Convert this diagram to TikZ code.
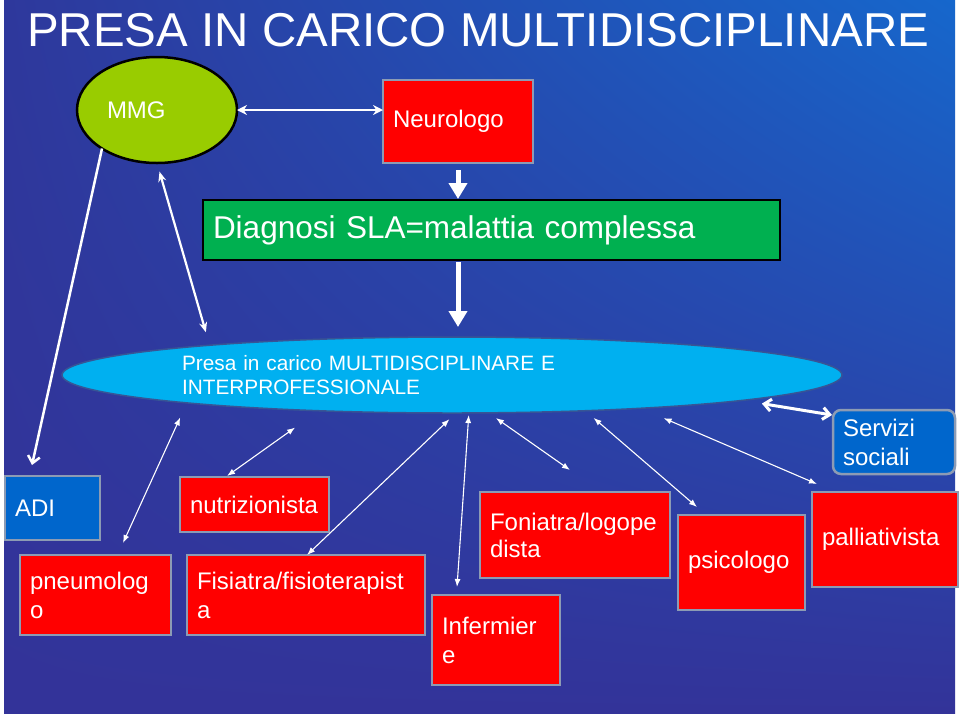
\documentclass[tikz,border=0pt]{standalone}
\usepackage{fontspec}
\setmainfont{Liberation Sans}
\usepackage{tikz}
\usetikzlibrary{shapes.geometric, arrows.meta, calc, shadings}
\definecolor{rosso}{RGB}{255,0,0}
\definecolor{verdino}{RGB}{153,204,0}
\definecolor{verde}{RGB}{0,176,80}
\definecolor{azzurro}{RGB}{0,176,240}
\definecolor{bluadi}{RGB}{0,102,204}
\definecolor{bordo}{RGB}{140,155,180}
\definecolor{bordoellisse}{RGB}{55,85,150}
\definecolor{fondoA}{RGB}{46,56,156}
\definecolor{fondoB}{RGB}{22,103,204}
\definecolor{fondoC}{RGB}{51,51,153}
\tikzset{
    casella/.style 2 args = {rectangle, fill=rosso, draw=bordo, line width=2.5pt, outer sep=0pt,
        inner xsep=10pt, inner ysep=0pt, anchor=north west, align=left, text=white,
        minimum width=#1pt, minimum height=#2pt, text width=#1pt-20pt,
        font=\fontsize{24}{29}\selectfont},
    freccina/.style = {white, line width=1.1pt, {Latex[length=8pt,width=6pt]}-{Latex[length=8pt,width=6pt]}},
    barba/.style = {white, line width=3pt, {Straight Barb[length=7pt,width=12pt]}-{Straight Barb[length=7pt,width=12pt]}},
    frecciablocco/.style = {white, line width=5pt, -{Triangle[length=16pt,width=18pt]}}
}

\begin{document}
\begin{tikzpicture}[x=1pt, y=-1pt]
    % Sfondo
    \useasboundingbox (0,0) rectangle (960,716);
    \fill[white] (0,0) rectangle (960,716);
    \shade[upper left=fondoA, upper right=fondoB, lower left=fondoC, lower right=fondoC] (4,0) rectangle (955,713);
    % Titolo
    \node[anchor=base west, inner sep=0pt, text=white, font=\fontsize{47.5}{56}\selectfont] (titolo) at (27,46) {PRESA IN CARICO MULTIDISCIPLINARE};
    % Nodi in alto
    \node[ellipse, fill=verdino, draw=black, line width=2.5pt, inner sep=0pt, outer sep=0pt,
        minimum width=160pt, minimum height=106pt, text width=100pt, align=left, text=white,
        font=\fontsize{24}{29}\selectfont] (mmg) at (157,110) {MMG};
    \node[casella={150}{83}] (neuro) at (383,80) {Neurologo};
    \node[casella={577}{60}, fill=verde, draw=black, font=\fontsize{31.5}{38}\selectfont] (diagnosi) at (203,200) {Diagnosi SLA=malattia complessa};
    \node[ellipse, fill=azzurro, draw=bordoellisse, line width=1.5pt, inner sep=0pt, outer sep=0pt,
        minimum width=780pt, minimum height=76pt, text width=540pt, align=left, text=white,
        font=\fontsize{20.8}{24.5}\selectfont] (presa) at (452,375) {Presa in carico MULTIDISCIPLINARE E\\INTERPROFESSIONALE};
    \node[casella={122}{64}, fill=bluadi, rounded corners=8pt] (servizi) at (833,410) {Servizi\\sociali};
    % Caselle in basso
    \node[casella={95}{64}, fill=bluadi] (adi) at (5,476) {ADI};
    \node[casella={151}{80}] (pneumo) at (20,555) {pneumolog\\o};
    \node[casella={149}{55}] (nutri) at (180,477) {nutrizionista};
    \node[casella={238}{80}] (fisiatra) at (187,555) {Fisiatra/fisioterapist\\a};
    \node[casella={128}{90}] (inferm) at (432,595) {Infermier\\e};
    \node[casella={190}{86}, font=\fontsize{24}{27}\selectfont] (foniatra) at (480,492) {Foniatra/logope\\dista};
    \node[casella={127}{95}] (psico) at (678,515) {psicologo};
    \node[casella={146}{95}] (palli) at (812,492) {palliativista};
    % Frecce grosse
    \draw[white, line width=2.5pt, {Stealth[length=10pt,width=10pt]}-{Stealth[length=10pt,width=10pt]}] (mmg.east) -- (mmg.east -| neuro.west);
    \draw[frecciablocco, shorten <=7pt, shorten >=1pt] (neuro.south) -- (neuro.south |- diagnosi.north);
    \draw[frecciablocco, shorten <=2pt, shorten >=10pt] (neuro.south |- diagnosi.south) -- (neuro.south |- presa.north);
    \draw[white, line width=2.2pt, {Stealth[length=10pt,width=8pt]}-{Stealth[length=10pt,width=8pt]}, shorten <=9pt, shorten >=13.5pt] (mmg.south) -- (presa.173.5);
    \draw[white, line width=2.5pt, -{Straight Barb[length=7pt,width=12pt]}] (mmg.215) -- ([xshift=-20.5pt,yshift=11pt]adi.north);
    \draw[barba, shorten <=20pt] (presa.355.8) -- ([xshift=-1pt,yshift=-5pt]servizi.north west);
    % Freccine verso le caselle
    \draw[freccina, shorten <=16pt] (presa.186.4) -- ([xshift=27.5pt,yshift=12pt]pneumo.north);
    \draw[freccina, shorten <=29pt] (presa.195.7) -- ([xshift=-27.5pt,yshift=1pt]nutri.north);
    \draw[freccina, shorten <=9pt] (presa.276.5) -- ([xshift=1pt]fisiatra.north);
    \draw[freccina, shorten <=2pt] (presa.294.2) -- ([xshift=-39pt,yshift=8pt]inferm.north);
    \draw[freccina, shorten <=9pt] (presa.314.9) -- ([xshift=-5pt,yshift=22pt]foniatra.north);
    \draw[freccina, shorten <=11pt] (presa.345) -- ([xshift=-44.5pt,yshift=8pt]psico.north);
    \draw[freccina, shorten <=25pt] (presa.350.9) -- ([xshift=-68pt,yshift=8pt]palli.north);
\end{tikzpicture}
\end{document}
